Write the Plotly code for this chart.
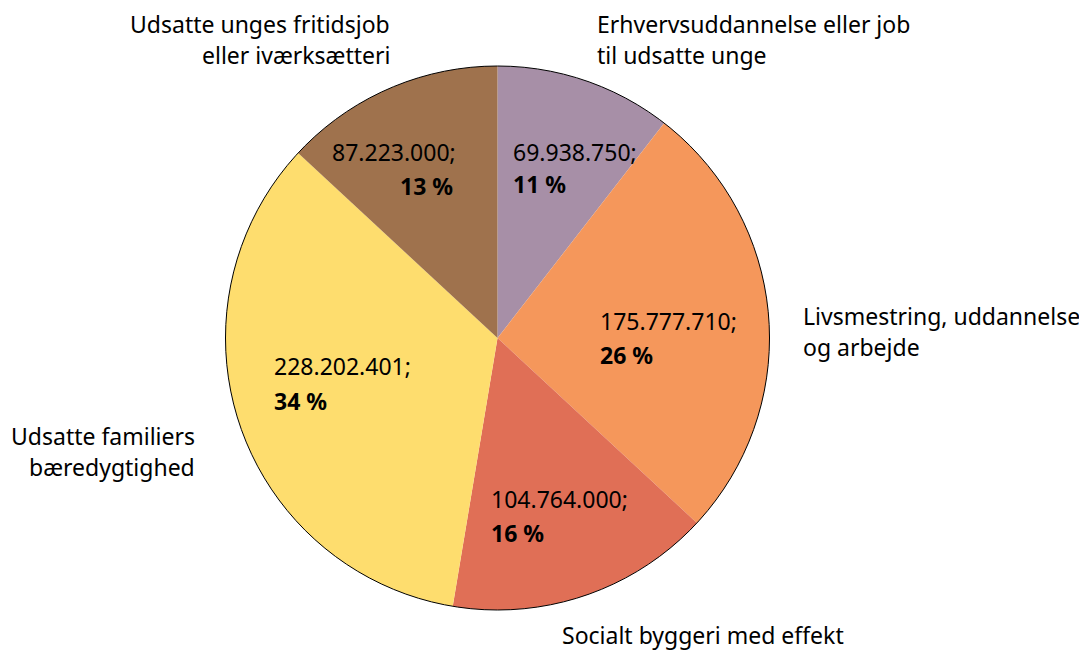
import plotly.graph_objects as go

W, H = 1079, 650

categories = [
    "Erhvervsuddannelse eller job<br>til udsatte unge",
    "Livsmestring, uddannelse<br>og arbejde",
    "Socialt byggeri med effekt",
    "Udsatte familiers<br>bæredygtighed",
    "Udsatte unges fritidsjob<br>eller iværksætteri",
]
values = [69938750, 175777710, 104764000, 228202401, 87223000]
colors = ["#A78FA7", "#F5975B", "#E06F56", "#FEDD6E", "#9F724D"]

total = sum(values)
pcts = [round(v / total * 100) for v in values]
value_txt = [f"{v:,}".replace(",", ".") + ";" for v in values]
pct_txt = [f"<b>{p} %</b>" for p in pcts]

# pixel layout (positions kept separate from data)
cx, cy, r = 497.5, 338, 272
# inner labels: (x_line1, y_line1, x_line2, y_line2, anchor)
inner_pos = [
    (511, 152, 511, 184, "left"),
    (598, 321, 598, 355, "left"),
    (489, 499, 489, 533, "left"),
    (272, 366, 272, 401, "left"),
    (458, 152, 455, 186, "right"),
]
# outside labels: (x, y_center_line1, anchor)
outer_pos = [
    (595, 24, "left"),
    (801, 316, "left"),
    (560, 635, "left"),
    (197, 436, "right"),
    (392, 24, "right"),
]
LINE = 31
FONT = "Noto Sans"
FS = 23

def px(x):
    return x / W

def py(y):
    return 1 - y / H

dom = dict(x=[px(cx - r), px(cx + r)], y=[py(cy + r), py(cy - r)])

fig = go.Figure()
fig.add_trace(go.Pie(
    labels=categories, values=values, sort=False, direction="clockwise",
    rotation=0, marker=dict(colors=colors, line=dict(width=0)),
    textinfo="none", hoverinfo="label+value+percent", domain=dom,
    showlegend=False,
))
fig.add_trace(go.Pie(
    labels=["total"], values=[total], sort=False,
    marker=dict(colors=["rgba(0,0,0,0)"], line=dict(color="#000000", width=1)),
    textinfo="none", hoverinfo="skip", domain=dom, showlegend=False,
))

ann = []
for i in range(len(values)):
    x1, y1, x2, y2, anc = inner_pos[i]
    ann.append(dict(x=px(x1), y=py(y1), text=value_txt[i], xanchor=anc, yanchor="middle"))
    ann.append(dict(x=px(x2), y=py(y2), text=pct_txt[i], xanchor=anc, yanchor="middle"))
    ox, oy, oanc = outer_pos[i]
    for j, line in enumerate(categories[i].split("<br>")):
        ann.append(dict(x=px(ox), y=py(oy + j * LINE), text=line, xanchor=oanc, yanchor="middle"))
for a in ann:
    a.update(xref="paper", yref="paper", showarrow=False,
             font=dict(family=FONT, size=FS, color="#000000"))

fig.update_layout(
    width=W, height=H, margin=dict(l=0, r=0, t=0, b=0),
    paper_bgcolor="white", plot_bgcolor="white",
    annotations=ann,
)
fig.write_html(
    "out.html",
    config={"displayModeBar": False},
    post_script="document.body.style.margin='0';document.body.style.overflow='hidden';",
)
